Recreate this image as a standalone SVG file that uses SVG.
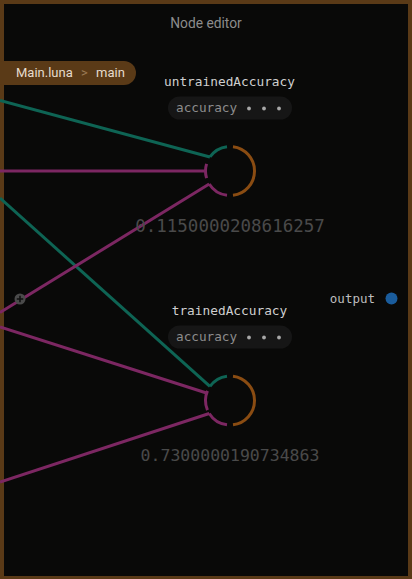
<svg xmlns="http://www.w3.org/2000/svg" width="412" height="579" viewBox="0 0 412 579">
<style>
.conn{fill:none;stroke-width:3;stroke-linecap:butt}
.teal{stroke:#0e6454}
.pink{stroke:#7c2762}
.port{fill:none;stroke-width:3}
.out{stroke:#8a4c12}
.name{font-family:"DejaVu Sans Mono",monospace;font-size:12.8px;fill:#cfcfcf;text-anchor:middle}
.pill{fill:#161616}
.arg{font-family:"DejaVu Sans Mono",monospace;font-size:12.7px;fill:#8c8c8c}
.dot{fill:#a8a8a8}
.val{font-family:"DejaVu Sans Mono",monospace;font-size:17.5px;fill:#4a4a4a;text-anchor:middle}
.val2{font-size:16.5px}
.ui{font-family:Roboto,"Liberation Sans",sans-serif}
</style>
<rect x="0" y="0" width="412" height="579" fill="#5a3a17"/>
<rect x="4" y="4" width="404" height="572" fill="#090908"/>
<text class="ui" x="206" y="28.3" font-size="13.8" fill="#8c8c8c" text-anchor="middle">Node editor</text>
<g id="breadcrumb">
<rect x="-10" y="61" width="146" height="24" rx="12" fill="#5a3a17"/>
<text class="ui" x="16" y="77" font-size="13" fill="#e6dccd">Main.luna</text>
<text class="ui" x="81" y="77" font-size="13" fill="#9a7a55">&gt;</text>
<text class="ui" x="96" y="77" font-size="13" fill="#e6dccd">main</text>
</g>
<g id="connectors">
<line class="conn teal" x1="0" y1="100.4" x2="209.93" y2="156.95"/>
<line class="conn pink" x1="0" y1="171" x2="206.5" y2="171"/>
<line class="conn teal" x1="0" y1="198.1" x2="209.93" y2="386.45"/>
<line class="conn pink" x1="0" y1="312.5" x2="209.22" y2="183.98"/>
<line class="conn pink" x1="0" y1="327" x2="206.5" y2="393"/>
<line class="conn pink" x1="0" y1="482" x2="209.22" y2="413.48"/>
</g>
<g id="add-port">
<circle cx="20" cy="299" r="5.5" fill="#4a4a4a"/>
<path d="M16.8 299H23.2M20 295.8V302.2" stroke="#111" stroke-width="1.6"/>
</g>
<g id="node-untrainedAccuracy">
<text class="name" x="229.5" y="86">untrainedAccuracy</text>
<rect class="pill" x="168" y="96.5" width="124" height="23" rx="11.5"/>
<text class="arg" x="176" y="112">accuracy</text>
<circle class="dot" cx="249" cy="108.5" r="1.9"/>
<circle class="dot" cx="264" cy="108.5" r="1.9"/>
<circle class="dot" cx="279" cy="108.5" r="1.9"/>
<path class="port teal" d="M209.93 156.95A24.5 24.5 0 0 1 227.01 146.68"/>
<path class="port pink" d="M206.57 178.16A24.5 24.5 0 0 1 206.57 163.84"/>
<path class="port pink" d="M227.01 195.32A24.5 24.5 0 0 1 209.22 183.98"/>
<path class="port out" d="M232.99 146.68A24.5 24.5 0 0 1 232.99 195.32"/>
<text class="val" x="230" y="231.7">0.1150000208616257</text>
</g>
<g id="node-trainedAccuracy">
<text class="name" x="229.5" y="315">trainedAccuracy</text>
<rect class="pill" x="168" y="325.5" width="124" height="23" rx="11.5"/>
<text class="arg" x="176" y="341">accuracy</text>
<circle class="dot" cx="249" cy="337.5" r="1.9"/>
<circle class="dot" cx="264" cy="337.5" r="1.9"/>
<circle class="dot" cx="279" cy="337.5" r="1.9"/>
<path class="port teal" d="M209.93 386.45A24.5 24.5 0 0 1 227.01 376.18"/>
<path class="port pink" d="M207.45 410.07A24.5 24.5 0 0 1 207.45 390.93"/>
<path class="port pink" d="M227.01 424.82A24.5 24.5 0 0 1 209.22 413.48"/>
<path class="port out" d="M232.99 376.18A24.5 24.5 0 0 1 232.99 424.82"/>
<text class="val val2" x="230" y="460.5">0.7300000190734863</text>
</g>
<g id="output">
<text x="375" y="302.5" font-family="DejaVu Sans Mono,monospace" font-size="12.5" fill="#bdbdbd" text-anchor="end">output</text>
<circle cx="391.5" cy="298.5" r="6" fill="#1a5c9c"/>
</g>
</svg>
